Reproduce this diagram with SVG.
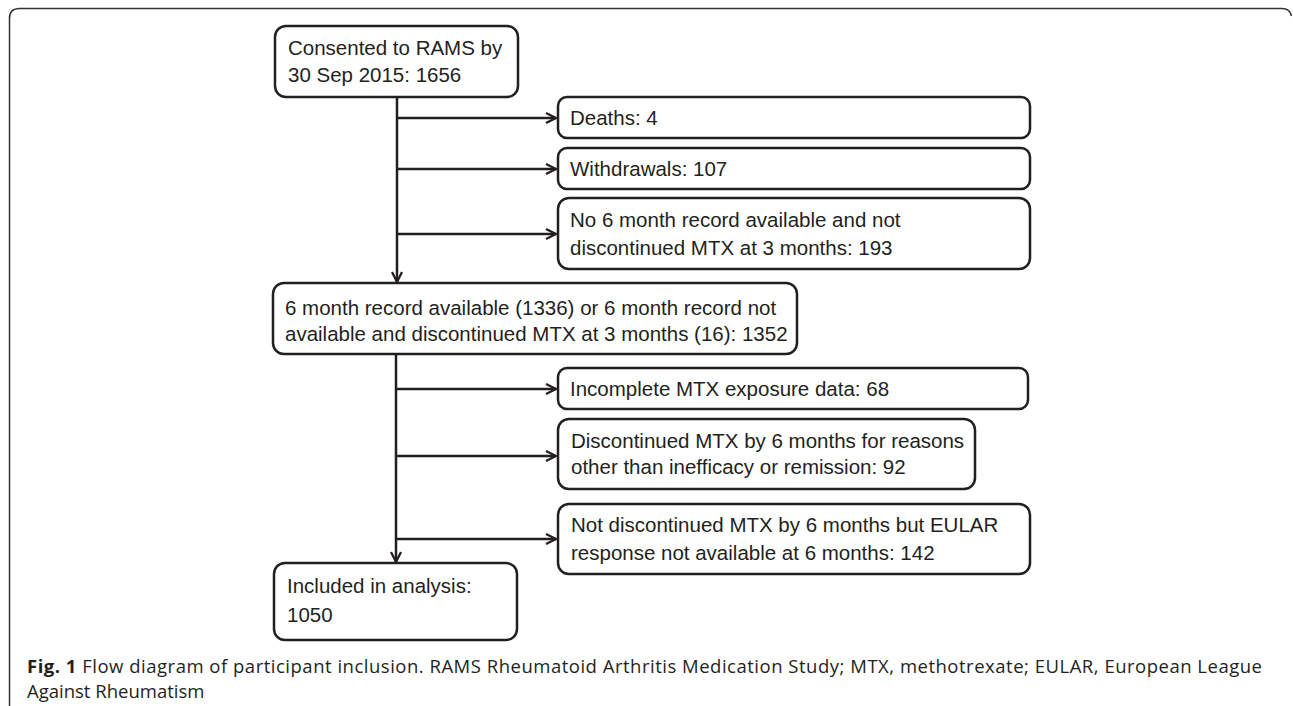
<svg xmlns="http://www.w3.org/2000/svg" width="1293" height="706" viewBox="0 0 1293 706">
<style>
.box{fill:#fff;stroke:#231f20;stroke-width:2.5}
.t{font-family:"Liberation Sans",Arial,sans-serif;font-size:20.5px;fill:#231f20}
.c{font-family:"Open Sans","Liberation Sans",sans-serif;font-size:18.5px;fill:#231f20}
.ln{fill:none;stroke:#231f20;stroke-width:2.5}
</style>
<defs>
<marker id="ah" viewBox="0 0 12 12" refX="11" refY="6" markerWidth="12" markerHeight="12" markerUnits="userSpaceOnUse" orient="auto">
<path d="M1,1 L11,6 L1,11" fill="none" stroke="#231f20" stroke-width="2.3"/>
</marker>
</defs>
<rect width="1293" height="706" fill="#fff"/>
<path d="M9.5,706 L9.5,18 Q9.5,8.5 19.5,8.5 L1282,8.5 Q1290,8.5 1291.5,16" fill="none" stroke="#333" stroke-width="1.5"/>
<g id="connectors">
<path class="ln" d="M397,97 L397,282" marker-end="url(#ah)"/>
<path class="ln" d="M397,118 L556,118" marker-end="url(#ah)"/>
<path class="ln" d="M397,169 L556,169" marker-end="url(#ah)"/>
<path class="ln" d="M397,234 L556,234" marker-end="url(#ah)"/>
<path class="ln" d="M396,354 L396,562" marker-end="url(#ah)"/>
<path class="ln" d="M396,389 L556,389" marker-end="url(#ah)"/>
<path class="ln" d="M396,456 L556,456" marker-end="url(#ah)"/>
<path class="ln" d="M396,539 L556,539" marker-end="url(#ah)"/>
</g>
<g id="n1"><rect class="box" x="275" y="26" width="243" height="71" rx="11"/>
<text class="t" x="288" y="55">Consented to RAMS by</text><text class="t" x="288" y="82">30 Sep 2015: 1656</text></g>
<g id="n2"><rect class="box" x="558" y="97" width="472" height="41" rx="9"/>
<text class="t" x="570" y="125">Deaths: 4</text></g>
<g id="n3"><rect class="box" x="558" y="148" width="472" height="41" rx="9"/>
<text class="t" x="570" y="176">Withdrawals: 107</text></g>
<g id="n4"><rect class="box" x="558" y="198" width="472" height="71" rx="11"/>
<text class="t" x="570" y="227">No 6 month record available and not</text><text class="t" x="570" y="255">discontinued MTX at 3 months: 193</text></g>
<g id="n5"><rect class="box" x="273" y="283" width="524" height="71" rx="11"/>
<text class="t" x="285" y="315">6 month record available (1336) or 6 month record not</text><text class="t" x="285" y="341">available and discontinued MTX at 3 months (16): 1352</text></g>
<g id="n6"><rect class="box" x="558" y="368" width="470" height="41" rx="9"/>
<text class="t" x="570" y="396">Incomplete MTX exposure data: 68</text></g>
<g id="n7"><rect class="box" x="558" y="419" width="417" height="70" rx="11"/>
<text class="t" x="571" y="448">Discontinued MTX by 6 months for reasons</text><text class="t" x="571" y="474">other than inefficacy or remission: 92</text></g>
<g id="n8"><rect class="box" x="558" y="504" width="472" height="70" rx="11"/>
<text class="t" x="571" y="532">Not discontinued MTX by 6 months but EULAR</text><text class="t" x="571" y="560">response not available at 6 months: 142</text></g>
<g id="n9"><rect class="box" x="274" y="563" width="243" height="77" rx="11"/>
<text class="t" x="287" y="593">Included in analysis:</text><text class="t" x="287" y="622">1050</text></g>
<g id="caption">
<text class="c" x="27" y="673" textLength="1235" lengthAdjust="spacing"><tspan font-weight="bold">Fig. 1</tspan> Flow diagram of participant inclusion. RAMS Rheumatoid Arthritis Medication Study; MTX, methotrexate; EULAR, European League</text>
<text class="c" x="27" y="698">Against Rheumatism</text>
</g>
</svg>
